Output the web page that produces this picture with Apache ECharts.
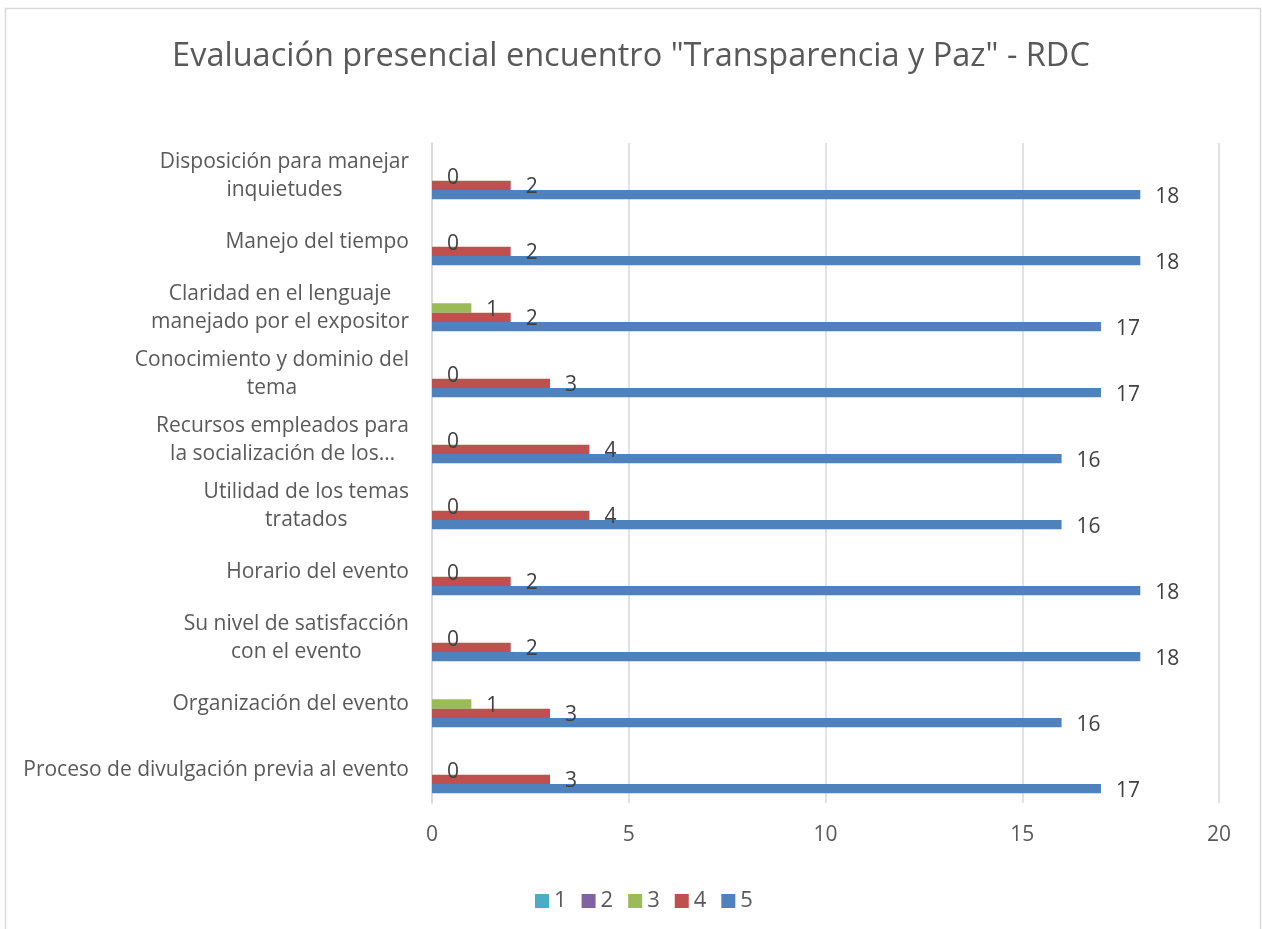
<!DOCTYPE html>
<html>
<head>
<meta charset="utf-8">
<script src="https://cdn.jsdelivr.net/npm/echarts@6/dist/echarts.min.js"></script>
<style>
  html,body{margin:0;padding:0;background:#fff;}
  #chart{width:1262px;height:929px;}
</style>
</head>
<body>
<div id="chart"></div>
<script>
// categorias, de abajo hacia arriba (como en Excel)
var categorias = [
  'Proceso de divulgación previa al evento',
  'Organización del evento',
  'Su nivel de satisfacción\ncon el evento',
  'Horario del evento',
  'Utilidad de los temas\ntratados',
  'Recursos empleados para\nla socialización de los…',
  'Conocimiento y dominio del\ntema',
  'Claridad en el lenguaje\nmanejado por el expositor',
  'Manejo del tiempo',
  'Disposición para manejar\ninquietudes'
];
var serie1 = [null, null, null, null, null, null, null, null, null, null];
var serie2 = [null, null, null, null, null, null, null, null, null, null];
var serie3 = [0, 1, 0, 0, 0, 0, 0, 1, 0, 0];
var serie4 = [3, 3, 2, 2, 4, 4, 3, 2, 2, 2];
var serie5 = [17, 16, 18, 18, 16, 16, 17, 17, 18, 18];
var nombres = ['1', '2', '3', '4', '5'];
var colores = ['#4BACC6', '#8064A2', '#9BBB59', '#C0504D', '#4F81BD'];

var fuente = '"Open Sans", "Noto Sans", sans-serif';
var chart = echarts.init(document.getElementById('chart'));

function barra(i, datos) {
  return {
    name: nombres[i],
    type: 'bar',
    data: datos,
    barWidth: 9.33,
    barGap: '0%',
    itemStyle: { color: colores[i] },
    label: {
      show: true,
      position: 'right',
      distance: 15,
      offset: [0, 2],
      color: '#404040',
      fontSize: 21,
      fontFamily: fuente
    }
  };
}

var option = {
  backgroundColor: '#fff',
  animation: false,
  graphic: [{
    type: 'rect',
    shape: { x: 5.5, y: 8.5, width: 1255, height: 960 },
    style: { fill: 'none', stroke: '#D9D9D9', lineWidth: 1.5 },
    silent: true
  }],
  title: {
    text: 'Evaluación presencial encuentro "Transparencia y Paz" - RDC',
    left: 'center',
    top: 35,
    textStyle: { color: '#595959', fontSize: 32.5, fontWeight: 'normal', fontFamily: fuente }
  },
  legend: {
    data: nombres,
    left: 530,
    top: 885,
    itemWidth: 14,
    itemHeight: 14,
    itemGap: 15,
    icon: 'rect',
    textStyle: { color: '#595959', fontSize: 22, fontFamily: fuente }
  },
  grid: { left: 432, right: 43, top: 143, bottom: 126, containLabel: false },
  xAxis: {
    type: 'value',
    min: 0,
    max: 20,
    interval: 5,
    axisLine: { show: false },
    axisTick: { show: false },
    splitLine: { lineStyle: { color: '#D9D9D9', width: 1.5 } },
    axisLabel: { color: '#595959', fontSize: 21, fontFamily: fuente, margin: 22 }
  },
  yAxis: {
    type: 'category',
    data: categorias,
    axisLine: { lineStyle: { color: '#D9D9D9', width: 1.5 } },
    axisTick: { show: false },
    axisLabel: {
      margin: 23,
      color: '#595959',
      fontSize: 21,
      lineHeight: 28,
      fontFamily: fuente,
      formatter: function (v) {
        return v.split('\n').map(function (l) { return '{c|' + l + '}'; }).join('\n');
      },
      rich: {
        c: { align: 'center', color: '#595959', fontSize: 21, lineHeight: 28, fontFamily: fuente }
      }
    }
  },
  series: [
    barra(0, serie1),
    barra(1, serie2),
    barra(2, serie3),
    barra(3, serie4),
    barra(4, serie5)
  ]
};
chart.setOption(option);
</script>
</body>
</html>
